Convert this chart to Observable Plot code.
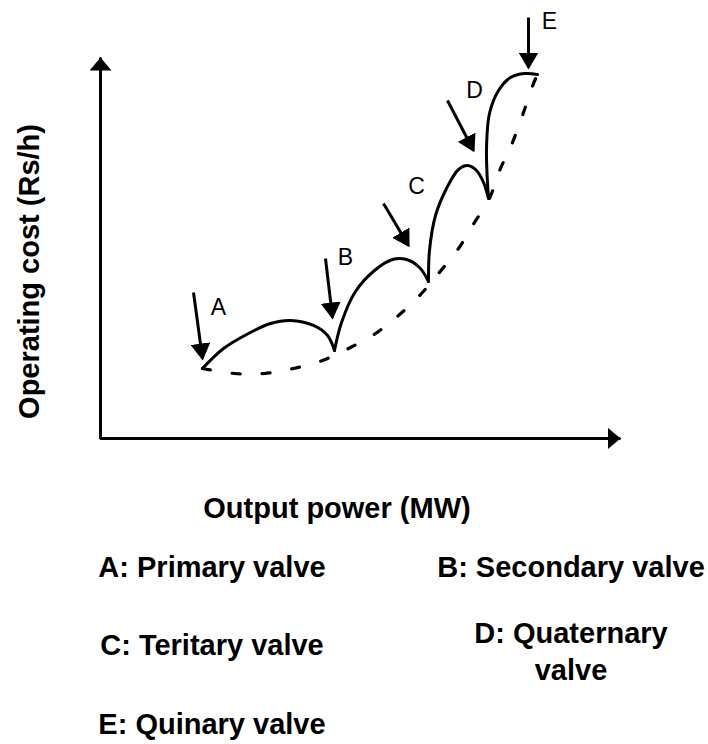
<!DOCTYPE html>
<html><head><meta charset="utf-8">
<script src="https://cdn.jsdelivr.net/npm/d3@7"></script>
<script src="https://cdn.jsdelivr.net/npm/@observablehq/plot@0.6"></script>
<style>
body{margin:0;background:#fff;}
#wrap{position:relative;width:708px;height:744px;font-family:"Liberation Sans",Arial,sans-serif;color:#000;background:#fff;}
#wrap svg{position:absolute;left:0;top:0;}
.lg{position:absolute;width:400px;text-align:center;font-size:29px;font-weight:bold;line-height:29px;white-space:pre;}
</style></head><body><div id="wrap"></div>
<script>
// Axis domains (arbitrary units: output power vs operating cost)
const xDomain = [0, 100];
const yDomain = [0, 100];

// Valve-point arcs (solid)
const arcA = [[19.65,18.42],[23.70,23.68],[28.52,27.63],[32.76,30.26],[36.61,31.05],[41.04,29.74],[43.74,27.11],[45.09,23.16]];
const arcB = [[45.09,23.16],[46.44,30.53],[49.13,38.68],[52.79,44.21],[56.26,47.11],[58.96,47.11],[61.46,45.0],[63.20,41.32]];
const arcC = [[63.20,41.32],[63.39,49.47],[64.55,58.68],[66.67,65.79],[68.98,70.79],[70.71,71.84],[72.45,70.53],[73.80,67.37],[74.76,63.16]];
const arcD = [[74.76,63.16],[74.37,75.79],[74.95,85.53],[76.69,91.58],[79.0,95.0],[81.70,96.05],[84.20,95.79]];

// Smooth cost curve without valve-point effect (dashed)
const envelope = [[19.65,18.42],[25.82,17.11],[31.60,17.11],[37.19,18.42],[42.77,20.53],[47.78,23.68],[52.99,27.63],[57.42,32.37],[61.66,37.89],[65.13,43.42],[68.98,50.0],[72.06,56.84],[74.76,62.63],[77.07,71.05],[79.38,77.89],[81.50,85.79],[83.43,93.42],[84.20,95.79]];

// Valve arrows and labels
const valveLabels = ["A","B","C","D","E"];
const arrowX1 = [17.92, 43.35, 54.53, 66.86, 82.47];
const arrowY1 = [38.42, 47.37, 61.84, 88.95, 110.79];
const arrowX2 = [19.65, 44.70, 59.34, 71.87, 82.47];
const arrowY2 = [21.05, 31.84, 50.79, 75.79, 97.63];
const labelX = [22.74, 47.21, 60.89, 72.06, 86.51];
const labelY = [34.47, 47.63, 66.32, 91.58, 109.74];

// Texts
const xTitle = "Output power (MW)";
const yTitle = "Operating cost (Rs/h)";
const legendLeft = ["A: Primary valve", "C: Teritary valve", "E: Quinary valve"];
const legendRight = ["B: Secondary valve", "D: Quaternary\nvalve"];

// Tables built from the arrays
const axisPath = [[xDomain[0], yDomain[1]], [xDomain[0], yDomain[0]], [xDomain[1], yDomain[0]]];
const arrows = valveLabels.map((label, i) => ({label, x1: arrowX1[i], y1: arrowY1[i], x2: arrowX2[i], y2: arrowY2[i], lx: labelX[i], ly: labelY[i]}));

function head(len, wid, back = 0) {
  return (color, context) => {
    const m = d3.create("svg:marker")
      .attr("viewBox", `0 ${-wid/2} ${len} ${wid}`)
      .attr("markerUnits", "userSpaceOnUse")
      .attr("markerWidth", len).attr("markerHeight", wid)
      .attr("refX", len - back).attr("refY", 0)
      .attr("orient", "auto-start-reverse")
      .attr("fill", color).attr("stroke", "none");
    m.append("path").attr("d", `M0,${-wid/2}L${len},0L0,${wid/2}Z`);
    return m.node();
  };
}

const ink = "#000";
const chart = Plot.plot({
  width: 708, height: 470,
  marginLeft: 100, marginRight: 89, marginTop: 58, marginBottom: 32,
  x: {domain: xDomain, axis: null},
  y: {domain: yDomain, axis: null},
  style: {fontFamily: "Liberation Sans, Arial, sans-serif", background: "white", overflow: "visible", color: ink},
  marks: [
    Plot.line(axisPath, {stroke: ink, strokeWidth: 3, strokeLinejoin: "miter", markerStart: head(13, 22, 1), markerEnd: head(13, 22, 1)}),
    Plot.line(envelope, {curve: "catmull-rom", stroke: ink, strokeWidth: 3.2, strokeDasharray: "8,22"}),
    ...[arcA, arcB, arcC, arcD].map(a => Plot.line(a, {curve: "catmull-rom", stroke: ink, strokeWidth: 3, strokeLinecap: "round"})),
    Plot.link(arrows, {x1: "x1", y1: "y1", x2: "x2", y2: "y2", stroke: ink, strokeWidth: 3, markerEnd: head(17, 20, 2)}),
    Plot.text(arrows, {x: "lx", y: "ly", text: "label", fontSize: 23, fill: ink}),
    Plot.text([yTitle], {frameAnchor: "left", textAnchor: "middle", rotate: -90, dx: -71, dy: 23, fontSize: 29, fontWeight: "bold", fill: ink})
  ]
});

const wrap = document.getElementById("wrap");
wrap.appendChild(chart);

function addText(txt, cx, top, lh) {
  const d = document.createElement("div");
  d.className = "lg";
  d.textContent = txt;
  d.style.left = (cx - 200) + "px";
  d.style.top = top + "px";
  if (lh) d.style.lineHeight = lh + "px";
  wrap.appendChild(d);
}
addText(xTitle, 337, 493.5);
const leftTops = [553, 630.5, 710];
legendLeft.forEach((t, i) => addText(t, 212, leftTops[i]));
addText(legendRight[0], 571, 553);
addText(legendRight[1], 571, 614.5, 37);
</script></body></html>
